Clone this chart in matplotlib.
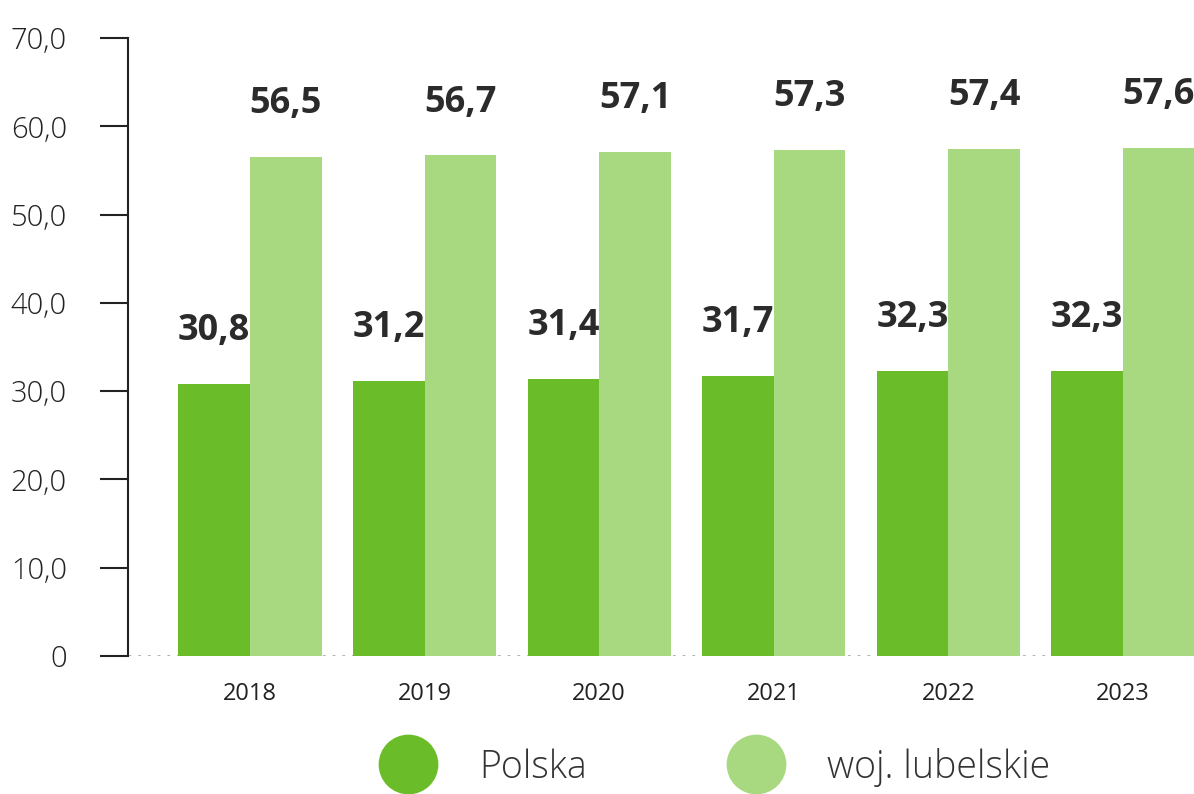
import matplotlib.pyplot as plt
from matplotlib.lines import Line2D
import numpy as np

plt.rcParams['font.family'] = ['Open Sans', 'DejaVu Sans']

years = ['2018', '2019', '2020', '2021', '2022', '2023']
polska = [30.8, 31.2, 31.4, 31.7, 32.3, 32.3]
lubelskie = [56.5, 56.7, 57.1, 57.3, 57.4, 57.6]
series_names = ['Polska', 'woj. lubelskie']
yticks = [0, 10, 20, 30, 40, 50, 60, 70]
ytick_labels = ['0', '10,0', '20,0', '30,0', '40,0', '50,0', '60,0', '70,0']

c_dark = '#6abd28'
c_light = '#a8d880'
txt = '#2b2b2b'

fig = plt.figure(figsize=(11.94, 7.94), dpi=100)
ax = fig.add_axes([0.1072, 0.1738, 0.8928, 0.7783])

x = np.arange(len(years))
w = 0.41
b1 = ax.bar(x - w / 2, polska, w, color=c_dark)
b2 = ax.bar(x + w / 2, lubelskie, w, color=c_light)

for bars, vals in ((b1, polska), (b2, lubelskie)):
    for r, v in zip(bars, vals):
        ax.annotate(f'{v:.1f}'.replace('.', ','),
                    (r.get_x() + r.get_width() / 2, v),
                    xytext=(0, 38), textcoords='offset points',
                    ha='center', va='center', fontsize=26,
                    fontweight='bold', color=txt)

ax.set_xlim(-0.699, 5.407)
ax.set_ylim(0, 70)
ax.set_yticks(yticks)
ax.set_yticklabels(ytick_labels, fontsize=21, color='#222222', fontweight='light')
ax.set_xticks(x)
ax.set_xticklabels(years, fontsize=17, color='#222222')
ax.tick_params(axis='y', length=20, width=1.5, color='#222222', pad=24)
ax.tick_params(axis='x', length=0, pad=19)

for s in ('top', 'right', 'bottom'):
    ax.spines[s].set_visible(False)
ax.spines['left'].set_linewidth(1.5)
ax.spines['left'].set_color('#222222')
ax.axhline(0, color='#aaaaaa', linestyle=(0, (1, 2.5)), linewidth=2, zorder=0)

handles = [Line2D([], [], marker='o', linestyle='', markersize=42,
                  markerfacecolor=c, markeredgecolor=c)
           for c in (c_dark, c_light)]
fig.legend(handles, series_names, loc='center', bbox_to_anchor=(0.595, 0.034),
           ncol=2, frameon=False, labelcolor='#333333',
           prop={'size': 27, 'weight': 'light'},
           handletextpad=0.9, columnspacing=3.5, borderpad=0)

fig.savefig('out.png', dpi=100)
